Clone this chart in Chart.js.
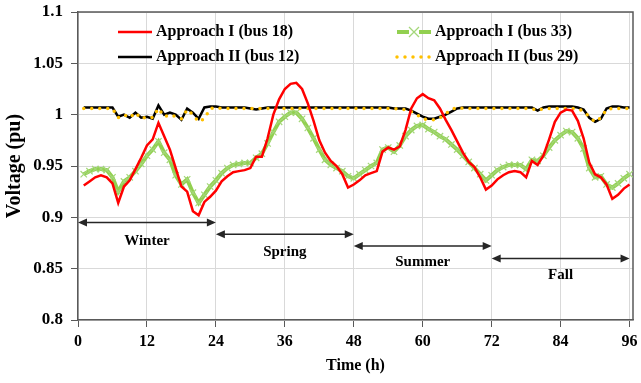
<!DOCTYPE html>
<html lang="en">
<head>
<meta charset="UTF-8">
<title>Voltage profile</title>
<script src="https://cdn.jsdelivr.net/npm/chart.js"></script>
<style>
  html, body { margin: 0; padding: 0; background: #fff; }
  #wrap { width: 641px; height: 383px; }
</style>
</head>
<body>
<div id="wrap"><canvas id="grafico" width="641" height="383"></canvas></div>

<script>
// hours of the four representative days
const hours = [1, 2, 3, 4, 5, 6, 7, 8, 9, 10, 11, 12, 13, 14, 15, 16, 17, 18, 19, 20, 21, 22, 23, 24,
  25, 26, 27, 28, 29, 30, 31, 32, 33, 34, 35, 36, 37, 38, 39, 40, 41, 42, 43, 44, 45, 46, 47, 48,
  49, 50, 51, 52, 53, 54, 55, 56, 57, 58, 59, 60, 61, 62, 63, 64, 65, 66, 67, 68, 69, 70, 71, 72,
  73, 74, 75, 76, 77, 78, 79, 80, 81, 82, 83, 84, 85, 86, 87, 88, 89, 90, 91, 92, 93, 94, 95, 96];

// Approach I, bus 18
const bus18 = [0.931, 0.935, 0.939, 0.941, 0.939, 0.933, 0.914, 0.930, 0.936, 0.947, 0.958, 0.970,
  0.976, 0.992, 0.979, 0.966, 0.948, 0.930, 0.925, 0.906, 0.902, 0.915, 0.920, 0.926,
  0.935, 0.940, 0.944, 0.945, 0.946, 0.948, 0.959, 0.959, 0.977, 1.000, 1.015, 1.025,
  1.030, 1.031, 1.025, 1.011, 0.994, 0.975, 0.963, 0.955, 0.950, 0.942, 0.929, 0.932,
  0.936, 0.941, 0.943, 0.945, 0.964, 0.968, 0.966, 0.969, 0.985, 1.006, 1.016, 1.020,
  1.016, 1.014, 1.006, 0.995, 0.985, 0.974, 0.963, 0.954, 0.949, 0.939, 0.927, 0.931,
  0.937, 0.941, 0.944, 0.945, 0.944, 0.939, 0.955, 0.951, 0.960, 0.976, 0.993, 1.002,
  1.005, 1.004, 0.994, 0.977, 0.953, 0.942, 0.939, 0.932, 0.918, 0.922, 0.928, 0.932];

// Approach I, bus 33
const bus33 = [0.942, 0.945, 0.947, 0.947, 0.946, 0.939, 0.925, 0.935, 0.939, 0.945, 0.952, 0.960,
  0.966, 0.974, 0.963, 0.956, 0.941, 0.932, 0.937, 0.924, 0.914, 0.922, 0.930, 0.936,
  0.943, 0.948, 0.951, 0.952, 0.953, 0.953, 0.958, 0.962, 0.972, 0.983, 0.993, 0.998,
  1.002, 1.002, 0.996, 0.987, 0.977, 0.966, 0.956, 0.951, 0.948, 0.945, 0.940, 0.938,
  0.942, 0.946, 0.950, 0.953, 0.966, 0.968, 0.964, 0.970, 0.979, 0.985, 0.989, 0.990,
  0.986, 0.983, 0.979, 0.976, 0.971, 0.966, 0.960, 0.954, 0.948, 0.942, 0.936, 0.941,
  0.946, 0.949, 0.951, 0.951, 0.951, 0.947, 0.956, 0.955, 0.960, 0.968, 0.975, 0.980,
  0.984, 0.983, 0.977, 0.967, 0.948, 0.939, 0.940, 0.932, 0.929, 0.933, 0.938, 0.942];

// Approach II, bus 12
const bus12 = [1.007, 1.007, 1.007, 1.007, 1.007, 1.007, 0.998, 1.000, 0.997, 1.002, 0.997, 0.998,
  0.996, 1.009, 1.000, 1.002, 1.000, 0.995, 1.006, 1.002, 0.996, 1.007, 1.008, 1.008,
  1.007, 1.007, 1.007, 1.007, 1.007, 1.006, 1.005, 1.006, 1.007, 1.007, 1.007, 1.007,
  1.007, 1.007, 1.007, 1.007, 1.007, 1.007, 1.007, 1.007, 1.007, 1.007, 1.007, 1.007,
  1.007, 1.007, 1.007, 1.007, 1.007, 1.007, 1.006, 1.006, 1.006, 1.004, 1.001, 0.998,
  0.996, 0.996, 0.998, 1.000, 1.003, 1.006, 1.007, 1.007, 1.007, 1.007, 1.007, 1.007,
  1.007, 1.007, 1.007, 1.007, 1.007, 1.007, 1.007, 1.004, 1.007, 1.008, 1.008, 1.008,
  1.008, 1.008, 1.007, 1.005, 0.997, 0.993, 0.996, 1.006, 1.008, 1.008, 1.007, 1.007];

// Approach II, bus 29
const bus29 = [1.006, 1.006, 1.006, 1.006, 1.006, 1.006, 0.997, 1.000, 0.997, 1.002, 0.996, 0.998,
  0.997, 1.006, 0.998, 1.000, 0.998, 0.996, 1.005, 1.000, 0.993, 0.996, 1.006, 1.007,
  1.006, 1.006, 1.006, 1.006, 1.006, 1.006, 1.006, 1.006, 1.006, 1.006, 1.006, 1.006,
  1.006, 1.006, 1.006, 1.006, 1.006, 1.006, 1.006, 1.006, 1.006, 1.006, 1.006, 1.006,
  1.006, 1.006, 1.006, 1.006, 1.006, 1.006, 1.006, 1.005, 1.005, 1.003, 1.000, 0.996,
  0.995, 0.995, 0.997, 1.001, 1.005, 1.007, 1.006, 1.006, 1.006, 1.006, 1.006, 1.006,
  1.006, 1.006, 1.006, 1.006, 1.006, 1.006, 1.006, 1.004, 1.006, 1.006, 1.006, 1.006,
  1.006, 1.006, 1.006, 1.003, 0.998, 0.993, 0.997, 1.005, 1.006, 1.006, 1.006, 1.006];

const xTicks = [0, 12, 24, 36, 48, 60, 72, 84, 96];
const yTicks = [0.8, 0.85, 0.9, 0.95, 1, 1.05, 1.1];

const seasons = ['Winter', 'Spring', 'Summer', 'Fall'];
const seasonStart = [0, 24, 48, 72];
const seasonEnd = [24, 48, 72, 96];

const FUENTE = '"Liberation Serif", "Times New Roman", serif';
Chart.defaults.font.family = FUENTE;
Chart.defaults.font.weight = 'bold';
Chart.defaults.font.size = 16;
Chart.defaults.color = '#000';

const puntos = serie => hours.map((h, i) => ({ x: h, y: serie[i] }));

// top and right edges of the plot frame
const marco = {
  id: 'marco',
  beforeDatasetsDraw(chart) {
    const { ctx, chartArea: a } = chart;
    ctx.save();
    ctx.strokeStyle = '#595959';
    ctx.lineWidth = 1.5;
    ctx.beginPath();
    ctx.moveTo(a.left, a.top);
    ctx.lineTo(a.right, a.top);
    ctx.lineTo(a.right, a.bottom);
    ctx.stroke();
    ctx.restore();
  }
};

// double arrows with the season names under them
const estaciones = {
  id: 'estaciones',
  afterDatasetsDraw(chart, args, opts) {
    const { ctx } = chart;
    const x = chart.scales.x, y = chart.scales.y;
    ctx.save();
    ctx.strokeStyle = '#262626';
    ctx.fillStyle = '#262626';
    ctx.lineWidth = 1.5;
    seasons.forEach((nombre, i) => {
      const x0 = x.getPixelForValue(seasonStart[i]);
      const x1 = x.getPixelForValue(seasonEnd[i]);
      const yy = y.getPixelForValue(opts.niveles[i]);
      ctx.beginPath();
      ctx.moveTo(x0 + 4, yy);
      ctx.lineTo(x1 - 4, yy);
      ctx.stroke();
      [[x0, 1], [x1, -1]].forEach(([px, d]) => {
        ctx.beginPath();
        ctx.moveTo(px, yy);
        ctx.lineTo(px + d * 9, yy - 4);
        ctx.lineTo(px + d * 9, yy + 4);
        ctx.closePath();
        ctx.fill();
      });
      ctx.fillStyle = '#000';
      ctx.font = 'bold 15px ' + FUENTE;
      ctx.textAlign = 'center';
      ctx.textBaseline = 'middle';
      ctx.fillText(nombre, (x0 + x1) / 2, yy + opts.separacion[i]);
      ctx.fillStyle = '#262626';
    });
    ctx.restore();
  }
};

// two-column legend inside the plot area
const leyenda = {
  id: 'leyenda',
  afterDraw(chart, args, opts) {
    const { ctx, chartArea: a } = chart;
    const sets = chart.data.datasets;
    ctx.save();
    ctx.font = 'bold 16px ' + FUENTE;
    ctx.textBaseline = 'middle';
    ctx.textAlign = 'left';
    sets.forEach((ds, i) => {
      const col = i % 2, fila = Math.floor(i / 2);
      const x0 = a.left + opts.columnas[col];
      const yy = a.top + opts.filas[fila];
      const largo = 34;
      ctx.save();
      ctx.strokeStyle = ds.borderColor;
      ctx.lineWidth = ds.borderWidth;
      ctx.lineCap = ds.borderCapStyle || 'butt';
      ctx.setLineDash(ds.borderDash || []);
      ctx.beginPath();
      ctx.moveTo(x0, yy);
      ctx.lineTo(x0 + largo, yy);
      ctx.stroke();
      ctx.restore();
      if (ds.pointStyle === 'crossRot') {
        const cx = x0 + largo / 2, r = 5;
        ctx.save();
        ctx.fillStyle = '#fff';
        ctx.fillRect(cx - r, yy - r, 2 * r, 2 * r);
        ctx.strokeStyle = ds.pointBorderColor;
        ctx.lineWidth = 1.3;
        ctx.beginPath();
        ctx.moveTo(cx - r, yy - r); ctx.lineTo(cx + r, yy + r);
        ctx.moveTo(cx - r, yy + r); ctx.lineTo(cx + r, yy - r);
        ctx.stroke();
        ctx.restore();
      }
      ctx.fillStyle = '#000';
      ctx.fillText(ds.label, x0 + largo + 4, yy);
    });
    ctx.restore();
  }
};

new Chart(document.getElementById('grafico'), {
  type: 'line',
  data: {
    datasets: [
      {
        label: 'Approach I (bus 18)',
        data: puntos(bus18),
        borderColor: '#ff0000',
        borderWidth: 2.5,
        pointRadius: 0,
        order: 0
      },
      {
        label: 'Approach I (bus 33)',
        data: puntos(bus33),
        borderColor: '#92d050',
        borderWidth: 4,
        pointStyle: 'crossRot',
        pointRadius: 4.5,
        pointBorderWidth: 1.2,
        pointBorderColor: '#a4d77a',
        pointBackgroundColor: '#a4d77a',
        order: 3
      },
      {
        label: 'Approach II (bus 12)',
        data: puntos(bus12),
        borderColor: '#000000',
        borderWidth: 2.5,
        pointRadius: 0,
        order: 2
      },
      {
        label: 'Approach II (bus 29)',
        data: puntos(bus29),
        borderColor: '#ffc000',
        borderWidth: 3.5,
        borderDash: [0, 8],
        borderCapStyle: 'round',
        pointRadius: 0,
        order: 1
      }
    ]
  },
  options: {
    responsive: false,
    animation: false,
    layout: { padding: { top: 12, right: 8, left: 0, bottom: 0 } },
    elements: { line: { tension: 0 } },
    plugins: {
      legend: { display: false },
      tooltip: { enabled: false },
      leyenda: { columnas: [40, 319], filas: [20, 45] },
      estaciones: {
        niveles: [0.895, 0.8835, 0.872, 0.860],
        separacion: [19, 18, 16, 17]
      }
    },
    scales: {
      x: {
        type: 'linear',
        min: 0,
        max: 96.6,
        afterBuildTicks: s => { s.ticks = xTicks.map(v => ({ value: v })); },
        afterFit: s => { s.height = 63; s.paddingLeft = 0; s.paddingRight = 0; },
        ticks: { padding: 5, font: { size: 16, weight: 'bold' } },
        grid: { color: '#d9d9d9', lineWidth: 1, tickLength: 7, tickColor: '#595959' },
        border: { color: '#595959', width: 1.5 },
        title: {
          display: true,
          text: 'Time (h)',
          font: { size: 16, weight: 'bold' },
          padding: { top: 0, bottom: 8 }
        }
      },
      y: {
        min: 0.8,
        max: 1.1,
        afterBuildTicks: s => { s.ticks = yTicks.map(v => ({ value: v })); },
        afterFit: s => { s.width = 78; s.paddingTop = 0; s.paddingBottom = 0; },
        ticks: {
          padding: 8,
          font: { size: 17, weight: 'bold' },
          callback: v => String(+v.toFixed(2))
        },
        grid: { color: '#d9d9d9', lineWidth: 1, tickLength: 7, tickColor: '#595959' },
        border: { color: '#595959', width: 1.5 },
        title: {
          display: true,
          text: 'Voltage (pu)',
          font: { size: 20, weight: 'bold' },
          padding: { top: 3, bottom: 0 }
        }
      }
    }
  },
  plugins: [marco, estaciones, leyenda]
});
</script>
</body>
</html>
